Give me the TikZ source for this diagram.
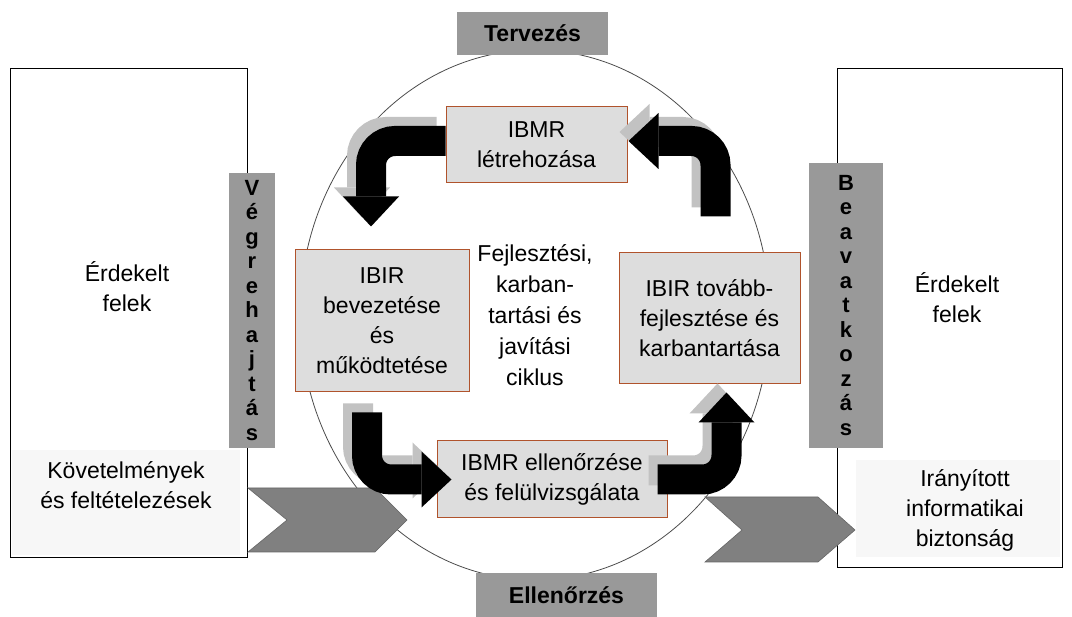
\documentclass[tikz,border=0pt]{standalone}
\usepackage{fontspec}
\setmainfont{Liberation Sans}
\usetikzlibrary{arrows.meta, shapes.geometric, positioning}

\definecolor{phasefill}{HTML}{DDDDDD}
\definecolor{phaseline}{HTML}{B0532C}
\definecolor{barfill}{HTML}{999999}
\definecolor{chevfill}{HTML}{808080}
\definecolor{ghostgray}{HTML}{C2C2C2}
\definecolor{paper}{HTML}{F7F7F7}

\begin{document}
\begin{tikzpicture}[x=1pt, y=-1pt, font=\fontsize{23}{30}\selectfont,
		phase/.style={draw=phaseline, fill=phasefill, line width=1pt, align=center, inner sep=0pt},
		sidebar/.style={fill=barfill, inner sep=0pt, align=center, font=\bfseries\fontsize{22}{24.5}\selectfont},
		tag/.style={fill=barfill, inner sep=0pt, font=\bfseries\fontsize{23}{30}\selectfont},
		party/.style={draw, line width=0.8pt, inner sep=0pt},
		paperbox/.style={fill=paper, inner sep=0pt},
		bigarrow/.style={line width=30pt, rounded corners=24pt, -{Triangle[width=56pt, length=30pt, line width=0pt]}},
		chevron/.style={fill=chevfill, draw=black!60, line width=0.6pt}]
		\useasboundingbox (0,0) rectangle (1072,617);
		
		% circle
		\node[ellipse, draw=black!70, line width=0.8pt, minimum width=470pt, minimum height=530pt, inner sep=0pt, align=center, font=\fontsize{23}{31}\selectfont] (cycle) at (535,315) {Fejlesztési,\\karban-\\tartási és\\javítási\\ciklus};
		
		% left
		\node[party, minimum width=237pt, minimum height=489pt] (leftparty) at (128.5,312.5) {};
		\node[align=center] (leftname) at (127,287) {Érdekelt\\felek};
		\node[paperbox, minimum width=228pt, minimum height=105pt] (reqbox) at (126,502.5) {};
		\node[align=center, inner sep=0pt, below=12pt of reqbox.north] (req) {Követelmények\\és feltételezések};
		
		% right
		\node[party, minimum width=225pt, minimum height=499pt] (rightparty) at (949.5,317.5) {};
		\node[align=center] (rightname) at (957,298) {Érdekelt\\felek};
		\node[paperbox, minimum width=204pt, minimum height=97pt] (secbox) at (958,508.5) {};
		\node[align=center] (sec) at (965,510) {Irányított\\informatikai\\biztonság};
		
		% chevrons
		\draw[chevron] (248,488) -- (375,488) -- (407,520) -- (375,552) -- (248,552) -- (287,520) -- cycle;
		\draw[chevron] (705,497) -- (818,497) -- (855,530) -- (818,562) -- (705,562) -- (742,530) -- cycle;
		
		% cycle
		\node[phase, minimum width=181pt, minimum height=76pt] (letre) at (536.5,145) {IBMR\\létrehozása};
		\node[phase, minimum width=174pt, minimum height=142pt] (bevez) at (382,321) {IBIR\\bevezetése\\és\\működtetése};
		\node[phase, minimum width=181pt, minimum height=131pt] (tovabb) at (709.5,318.5) {IBIR tovább-\\fejlesztése és\\karbantartása};
		\node[phase, minimum width=230pt, minimum height=77pt] (ellen) at (552,479.5) {IBMR ellenőrzése\\és felülvizsgálata};
		
		% arrows
		\begin{scope}[transform canvas={shift={(-9pt,9pt)}}]
			\draw[bigarrow, ghostgray] ([yshift=4pt]letre.west) -| ([xshift=-11pt,yshift=23pt]bevez.north);
			\draw[bigarrow, ghostgray] ([xshift=-15pt,yshift=-20pt]bevez.south) |- ([xshift=15pt]ellen.west);
			\draw[bigarrow, ghostgray] ([xshift=-10pt]ellen.east) -| ([xshift=17pt,yshift=-8pt]tovabb.south);
			\draw[bigarrow, ghostgray] ([xshift=6pt,yshift=36pt]tovabb.north) |- ([xshift=1pt,yshift=4pt]letre.east);
		\end{scope}
		\draw[bigarrow] ([yshift=4pt]letre.west) -| ([xshift=-11pt,yshift=23pt]bevez.north);
		\draw[bigarrow] ([xshift=-15pt,yshift=-20pt]bevez.south) |- ([xshift=15pt]ellen.west);
		\draw[bigarrow] ([xshift=-10pt]ellen.east) -| ([xshift=17pt,yshift=-8pt]tovabb.south);
		\draw[bigarrow] ([xshift=6pt,yshift=36pt]tovabb.north) |- ([xshift=1pt,yshift=4pt]letre.east);
		
		% phases of the circle
		\node[tag, minimum width=151pt, minimum height=43pt] (plan) at (532.5,33.5) {Tervezés};
		\node[tag, minimum width=181pt, minimum height=44pt] (check) at (566.5,595) {Ellenőrzés};
		\node[sidebar, minimum width=46pt, minimum height=275pt] (act) at (252,310.5) {V\\é\\g\\r\\e\\h\\a\\j\\t\\á\\s};
		\node[sidebar, minimum width=74pt, minimum height=285pt] (fix) at (846,305.5) {B\\e\\a\\v\\a\\t\\k\\o\\z\\á\\s};
\end{tikzpicture}
\end{document}
